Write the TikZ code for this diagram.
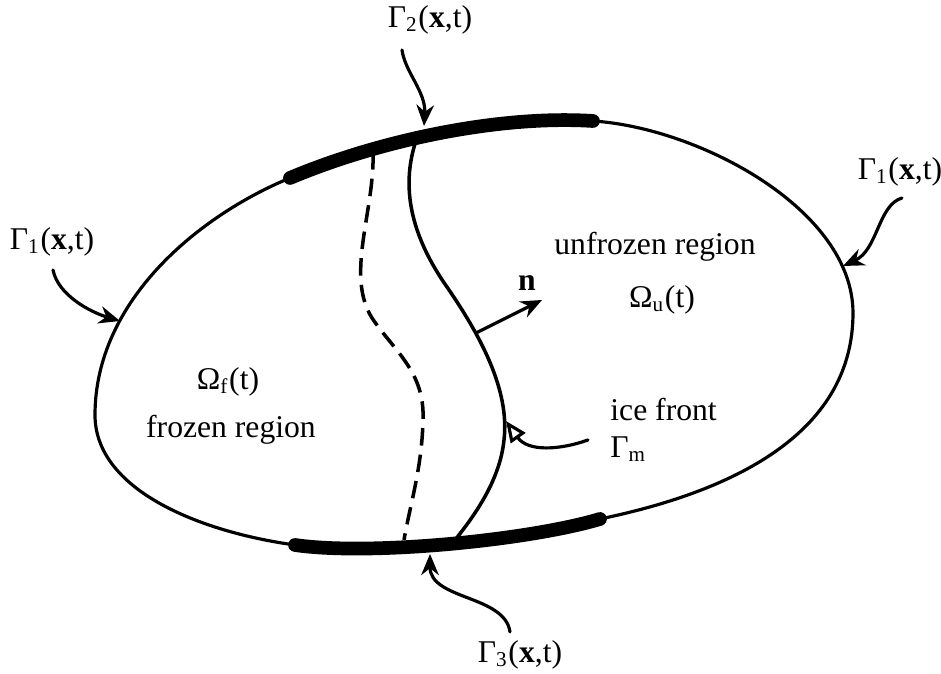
\documentclass[tikz,border=0pt]{standalone}
\usepackage{fontspec}
\setmainfont{Liberation Serif}
\usetikzlibrary{arrows.meta}

\begin{document}
\begin{tikzpicture}[
    x=0.01cm, y=-0.01cm,
    font=\fontsize{9}{10.5}\selectfont,
    boundary/.style={line width=0.9pt},
    band/.style={line width=3.9pt, line cap=round},
    pointer/.style={line width=0.9pt, line cap=round, -{Stealth[length=6pt,width=5pt]}},
    frontline/.style={line width=1pt},
    oldfront/.style={line width=1pt, dash pattern=on 5pt off 2.6pt}
]

\useasboundingbox (0,0) rectangle (941,674);

% Outer boundary of the domain
\draw [boundary] (290,178) .. controls (380,140) and (500,115) .. (593,121)
    .. controls (700,128) and (853,210) .. (853,313)
    .. controls (853,430) and (740,490) .. (600,519)
    .. controls (530,540) and (370,556) .. (295,545)
    .. controls (200,532) and (95,490) .. (95,415)
    .. controls (95,300) and (200,215) .. (290,178);

% Thick parts of the boundary
\draw [band] (290,178) .. controls (380,140) and (500,115) .. (593,121);
\draw [band] (600,519) .. controls (530,540) and (370,556) .. (295,545);

% Ice front (solid) and earlier front (dashed)
\draw [frontline] (418,135) .. controls (405,170) and (400,220) .. (447,287)
    .. controls (480,335) and (510,390) .. (504,440)
    .. controls (500,480) and (475,515) .. (455,540);
\draw [oldfront] (373,152) .. controls (375,210) and (345,275) .. (372,318)
    .. controls (395,352) and (425,372) .. (423,420)
    .. controls (422,468) and (410,505) .. (404,540);

% Points on the curves
\coordinate (gtwotip) at (424,126);
\coordinate (gtwotail) at (402,50);
\coordinate (glefttip) at (120,321);
\coordinate (glefttail) at (53,270);
\coordinate (grighttip) at (843,266);
\coordinate (grighttail) at (902,198);
\coordinate (gthreetip) at (430,554);
\coordinate (gthreetail) at (510,632);
\coordinate (fronttip) at (506,421);
\coordinate (fronttail) at (588,440);
\coordinate (nfoot) at (476,333);
\coordinate (ntip) at (542,300);

% Labels
\node (gtwo) at (430,20) {Γ\textsubscript{2}(\textbf{x},t)};
\node (gleft) at (52,242) {Γ\textsubscript{1}(\textbf{x},t)};
\node (gright) at (900,172) {Γ\textsubscript{1}(\textbf{x},t)};
\node (gthree) at (520,655) {Γ\textsubscript{3}(\textbf{x},t)};
\node (unfrozen) at (655,247) {unfrozen region};
\node (omegau) at (662,300) {Ω\textsubscript{u}(t)};
\node (omegaf) at (228,382) {Ω\textsubscript{f}(t)};
\node (frozen) at (231,430) {frozen region};
\node (nlabel) at (527,283) {\textbf{n}};
\node (icefront) at (598,430) [anchor=west, align=left] {ice front\\Γ\textsubscript{m}};

% Pointers
\draw [pointer] (gtwotail) .. controls (405,72) and (426,92) .. (gtwotip);
\draw [pointer] (glefttail) .. controls (58,295) and (90,312) .. (glefttip);
\draw [pointer] (grighttail) .. controls (878,205) and (878,250) .. (grighttip);
\draw [pointer] (gthreetail) .. controls (505,595) and (430,600) .. (gthreetip);
\draw [pointer] (nfoot) -- (ntip);
\draw [line width=0.9pt, line cap=round, -{Triangle[open,length=6pt,width=5pt]}] (fronttail) .. controls (560,450) and (528,452) .. (fronttip);

\end{tikzpicture}
\end{document}
